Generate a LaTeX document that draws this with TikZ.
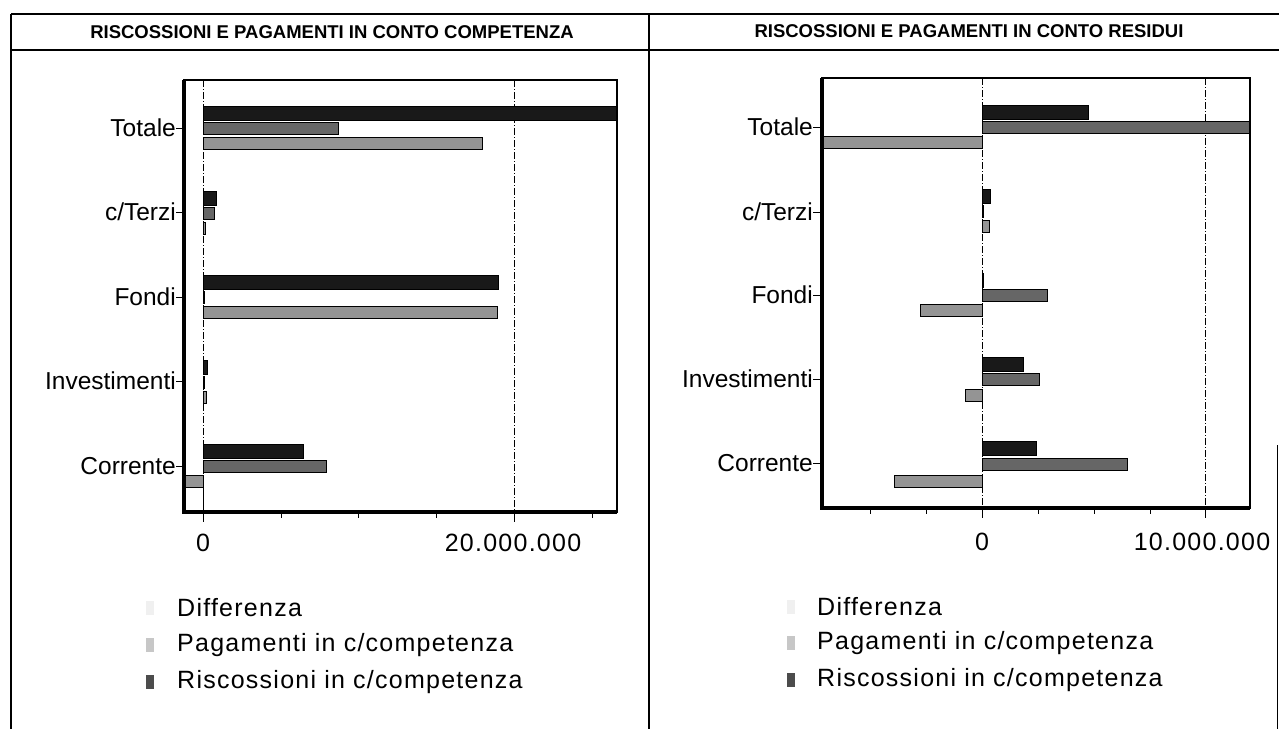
\documentclass[tikz,border=0pt]{standalone}
\usepackage{fontspec}
\setmainfont{Liberation Sans}
\newfontfamily\spacedfont[LetterSpace=5]{Liberation Sans}
\begin{document}
\begin{tikzpicture}[x=1pt, y=-1pt,
    riscbar/.style={fill=black!90},
    pagbar/.style={fill=black!60},
    diffbar/.style={fill=black!42},
    gridline/.style={line width=0.8pt, dash pattern=on 7pt off 2pt on 1pt off 2pt},
    catlabel/.style={anchor=east, inner sep=0pt, font=\fontsize{24.5}{28}\selectfont},
    ticklabel/.style={inner sep=0pt, font=\fontsize{25}{28}\spacedfont},
    legtext/.style={anchor=west, inner sep=0pt, font=\fontsize{25}{28}\spacedfont},
    title/.style={inner sep=0pt, font=\fontsize{18.5}{21}\selectfont\bfseries}]

        \useasboundingbox (0,0) rectangle (1279,729);

        % panels and titles
        \draw [line width=1.5pt] (11,14) -- (1279,14);
        \draw [line width=1.5pt] (11,50) -- (1279,50);
        \draw [line width=1.5pt] (11,14) -- (11,729);
        \draw [line width=1.5pt] (649,14) -- (649,729);
        \draw [line width=1pt] (1277,445) -- (1277,729);
        \node [title] (H1) at (332,32) {RISCOSSIONI E PAGAMENTI IN CONTO COMPETENZA};
        \node [title] (H2) at (969,31) {RISCOSSIONI E PAGAMENTI IN CONTO RESIDUI};

        % left chart, x in millions
        \begin{scope}[shift={(203.3,0)}, x=15.55pt]
        \clip (-1.23,80) rectangle (26.63,512);
        \draw [gridline] (0,80) -- (0,512);
        \draw [gridline] (20,80) -- (20,512);
        \draw [riscbar] (0,106) rectangle (26.7,120);
        \draw [pagbar] (0,122) rectangle (8.7,134);
        \draw [diffbar] (0,137) rectangle (17.95,149);
        \draw [riscbar] (0,191) rectangle (0.8,205);
        \draw [pagbar] (0,207) rectangle (0.7,219);
        \draw [diffbar] (0,222) rectangle (0.1,234);
        \draw [riscbar] (0,275) rectangle (18.95,289);
        \draw [pagbar] (0,291) rectangle (0.05,303);
        \draw [diffbar] (0,306) rectangle (18.9,318);
        \draw [riscbar] (0,360) rectangle (0.25,374);
        \draw [pagbar] (0,376) rectangle (0.05,388);
        \draw [diffbar] (0,391) rectangle (0.2,403);
        \draw [riscbar] (0,444) rectangle (6.4,458);
        \draw [pagbar] (0,460) rectangle (7.9,472);
        \draw [diffbar] (0,475) rectangle (-1.5,487);
        \draw [thin] (-1.5,487) rectangle (0,511);
        \end{scope}
        \draw [line width=2pt] (184,80) rectangle (617,512);
        \draw [line width=4pt] (184,80) -- (184,512) -- (617,512);

        \node [catlabel] (T1) at (176,128) {Totale};
        \node [catlabel] (C1) at (176,212) {c/Terzi};
        \node [catlabel] (F1) at (176,297) {Fondi};
        \node [catlabel] (I1) at (176,381) {Investimenti};
        \node [catlabel] (R1) at (176,466) {Corrente};
        \draw (T1.east) -- (184,128);
        \draw (C1.east) -- (184,212);
        \draw (F1.east) -- (184,297);
        \draw (I1.east) -- (184,381);
        \draw (R1.east) -- (184,466);
        \draw (203,512) -- (203,522);
        \draw (281,512) -- (281,518);
        \draw (358,512) -- (358,518);
        \draw (436,512) -- (436,518);
        \draw (514,512) -- (514,522);
        \draw (592,512) -- (592,518);
        \node [ticklabel] (X0) at (203,543) {0};
        \node [ticklabel] (X20) at (513,543) {20.000.000};

        \draw [diffbar, draw=none, fill=black!6] (146,601) rectangle (154,615);
        \draw [pagbar, draw=none, fill=black!22] (146,638) rectangle (154,652);
        \draw [riscbar, draw=none, fill=black!70] (146,675) rectangle (154,689);
        \node [legtext] (D1) at (177,608) {Differenza};
        \node [legtext] (P1) at (177,645) {Pagamenti in c/competenza};
        \node [legtext] (S1) at (177,682) {Riscossioni in c/competenza};

        % right chart, x in millions
        \begin{scope}[shift={(982,0)}, x=22.35pt]
        \clip (-7.163,78) rectangle (11.99,508);
        \draw [gridline] (0,78) -- (0,508);
        \draw [gridline] (10,78) -- (10,508);
        \draw [riscbar] (0,105) rectangle (4.73,119);
        \draw [pagbar] (0,121) rectangle (12.1,133);
        \draw [diffbar] (0,136) rectangle (-7.3,148);
        \draw [riscbar] (0,189) rectangle (0.35,203);
        \draw [pagbar] (0,205) rectangle (0.05,217);
        \draw [diffbar] (0,220) rectangle (0.3,232);
        \draw [riscbar] (0,273) rectangle (0.05,287);
        \draw [pagbar] (0,289) rectangle (2.9,301);
        \draw [diffbar] (0,304) rectangle (-2.75,316);
        \draw [riscbar] (0,357) rectangle (1.84,371);
        \draw [pagbar] (0,373) rectangle (2.58,385);
        \draw [diffbar] (0,389) rectangle (-0.76,401);
        \draw [riscbar] (0,441) rectangle (2.42,455);
        \draw [pagbar] (0,458) rectangle (6.5,470);
        \draw [diffbar] (0,475) rectangle (-3.95,487);
        \end{scope}
        \draw [line width=2pt] (822,78) rectangle (1250,508);
        \draw [line width=4pt] (822,78) -- (822,508) -- (1250,508);

        \node [catlabel] (T2) at (813,127) {Totale};
        \node [catlabel] (C2) at (813,212) {c/Terzi};
        \node [catlabel] (F2) at (813,295) {Fondi};
        \node [catlabel] (I2) at (813,379) {Investimenti};
        \node [catlabel] (R2) at (813,463) {Corrente};
        \draw (T2.east) -- (822,127);
        \draw (C2.east) -- (822,212);
        \draw (F2.east) -- (822,295);
        \draw (I2.east) -- (822,379);
        \draw (R2.east) -- (822,463);
        \draw (870,508) -- (870,514);
        \draw (926,508) -- (926,514);
        \draw (982,508) -- (982,518);
        \draw (1038,508) -- (1038,514);
        \draw (1094,508) -- (1094,514);
        \draw (1150,508) -- (1150,514);
        \draw (1205,508) -- (1205,518);
        \node [ticklabel] (Y0) at (982,542) {0};
        \node [ticklabel] (Y10) at (1202,542) {10.000.000};

        \draw [diffbar, draw=none, fill=black!6] (787,600) rectangle (795,614);
        \draw [pagbar, draw=none, fill=black!22] (787,636) rectangle (795,650);
        \draw [riscbar, draw=none, fill=black!70] (787,673) rectangle (795,687);
        \node [legtext] (D2) at (817,607) {Differenza};
        \node [legtext] (P2) at (817,643) {Pagamenti in c/competenza};
        \node [legtext] (S2) at (817,680) {Riscossioni in c/competenza};

\end{tikzpicture}
\end{document}
